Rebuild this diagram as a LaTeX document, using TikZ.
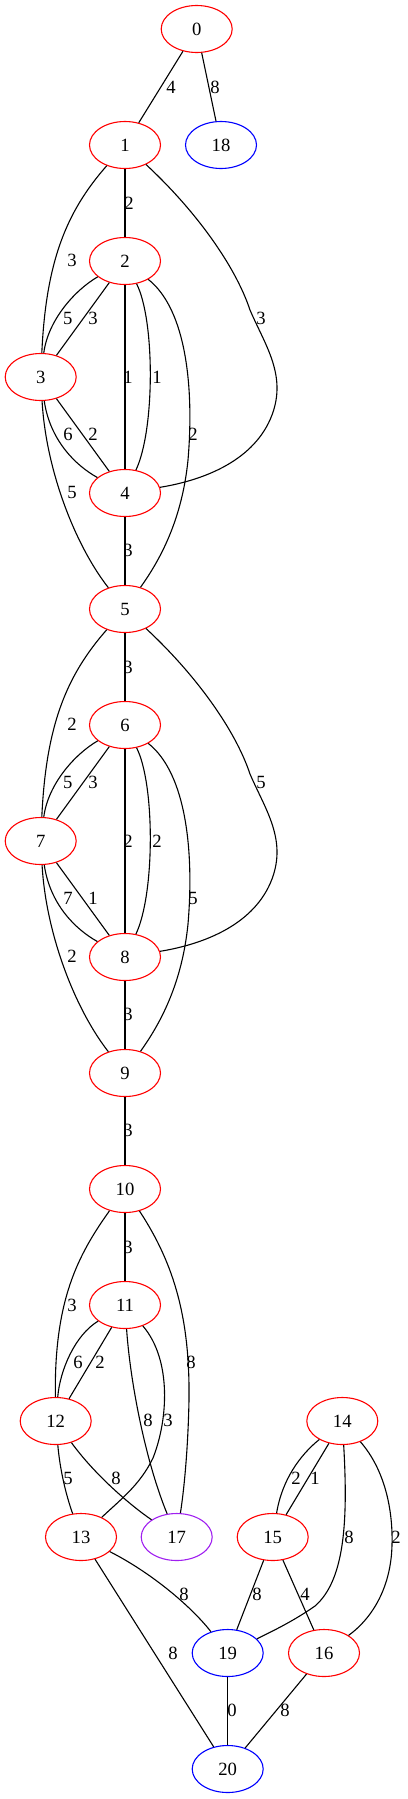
\documentclass[tikz,border=0pt]{standalone}
\usepackage{fontspec}
\setmainfont{Liberation Serif}
\usetikzlibrary{shapes.geometric}
\definecolor{violet17}{RGB}{160,32,240}
\tikzset{
  vert/.style={ellipse,draw=red,minimum width=71pt,minimum height=47pt,inner sep=0pt,
    font=\fontsize{18.67}{20}\selectfont},
  lbl/.style={inner sep=0pt,font=\fontsize{18.67}{20}\selectfont}
}
\begin{document}
\begin{tikzpicture}[x=1pt,y=-1pt,line width=1.1pt]
  \useasboundingbox (0,0) rectangle (407,1799);
  % vertices
  \foreach \n/\x/\y/\c in {0/196.7/29/red,1/125/145/red,18/221/145/blue,2/125/261/red,
      3/40.7/377/red,4/125/493/red,5/125/609/red,6/125/725/red,7/40.7/841/red,
      8/125/957/red,9/125/1073/red,10/125/1189/red,11/125/1305/red,12/55.7/1421/red,
      14/342.3/1421/red,13/81/1537/red,17/176.7/1537/violet17,15/272.7/1537/red,
      19/227.7/1653/blue,16/324/1653/red,20/227.7/1769/blue}
    \node[vert,draw=\c] (n\n) at (\x,\y) {\n};
  % straight edges
  \foreach \a/\b in {0/1,0/18,1/2,2/3,2/4,3/4,4/5,5/6,6/7,6/8,7/8,8/9,9/10,10/11,
      11/12,13/20,14/15,15/19,15/16,19/20,16/20}
    \draw (n\a) -- (n\b);
  % curved edges, upper block
  \draw (n1) .. controls (66,212) and (46,262) .. (n3);
  \draw (n1) .. controls (195,210) and (235,265) .. (250,310)
             .. controls (265,345) and (287,375) .. (272,415)
             .. controls (255,460) and (205,480) .. (n4);
  \draw (n2) .. controls (75,290) and (48,320) .. (n3);
  \draw (n2) .. controls (155,320) and (155,430) .. (n4);
  \draw (n2) .. controls (187,310) and (194,390) .. (188,460)
             .. controls (182,520) and (160,560) .. (n5);
  \draw (n3) .. controls (50,440) and (75,465) .. (n4);
  \draw (n3) .. controls (46,470) and (75,545) .. (n5);
  % curved edges, middle block
  \draw (n5) .. controls (66,676) and (46,726) .. (n7);
  \draw (n5) .. controls (195,674) and (235,729) .. (250,774)
             .. controls (265,809) and (287,839) .. (272,879)
             .. controls (255,924) and (205,944) .. (n8);
  \draw (n6) .. controls (75,754) and (48,784) .. (n7);
  \draw (n6) .. controls (155,784) and (155,894) .. (n8);
  \draw (n6) .. controls (187,774) and (194,854) .. (188,924)
             .. controls (182,984) and (160,1024) .. (n9);
  \draw (n7) .. controls (50,904) and (75,929) .. (n8);
  \draw (n7) .. controls (46,934) and (75,1009) .. (n9);
  % curved edges, lower part
  \draw (n10) .. controls (78,1255) and (54,1300) .. (n12);
  \draw (n10) .. controls (175,1265) and (190,1320) .. (189,1400)
              .. controls (188,1450) and (184,1490) .. (n17);
  \draw (n11) .. controls (75,1335) and (60,1370) .. (n12);
  \draw (n11) .. controls (130,1380) and (145,1460) .. (n17);
  \draw (n11) .. controls (172,1360) and (168,1420) .. (153,1458)
              .. controls (140,1485) and (120,1500) .. (n13);
  \draw (n12) .. controls (60,1470) and (66,1495) .. (n13);
  \draw (n12) .. controls (95,1475) and (130,1505) .. (n17);
  \draw (n13) .. controls (150,1572) and (190,1605) .. (n19);
  \draw (n14) .. controls (300,1455) and (282,1480) .. (n15);
  \draw (n14) .. controls (348,1520) and (345,1580) .. (315,1606)
              .. controls (295,1620) and (275,1630) .. (n19);
  \draw (n14) .. controls (385,1470) and (393,1510) .. (392,1545)
              .. controls (391,1590) and (370,1620) .. (n16);
  % weights
  \foreach \x/\y/\t [count=\i] in {171/87/4,215/87/8,129/203/2,72/260/3,261/318/3,
      67.7/318/5,93/318/3,128/377/1,157/377/1,193/434/2,68/434/6,93/434/2,72/492/5,
      128/550/3,128/667/3,72/724/2,261/782/5,67.7/782/5,93/782/3,128/841/2,157/841/2,
      193/898/5,68/898/7,93/898/1,72/956/2,128/1014/3,128/1130/3,128/1247/3,72/1305/3,
      191/1362/8,78/1362/6,100/1362/2,148/1420/8,168/1420/3,68/1478/5,116/1478/8,
      296/1478/2,315/1478/1,349/1537/8,396/1537/2,184/1594/8,257/1594/8,305/1594/4,
      173/1653/8,232/1710/0,285/1710/8}
    \node[lbl] (w\i) at (\x,\y) {\t};
\end{tikzpicture}
\end{document}
